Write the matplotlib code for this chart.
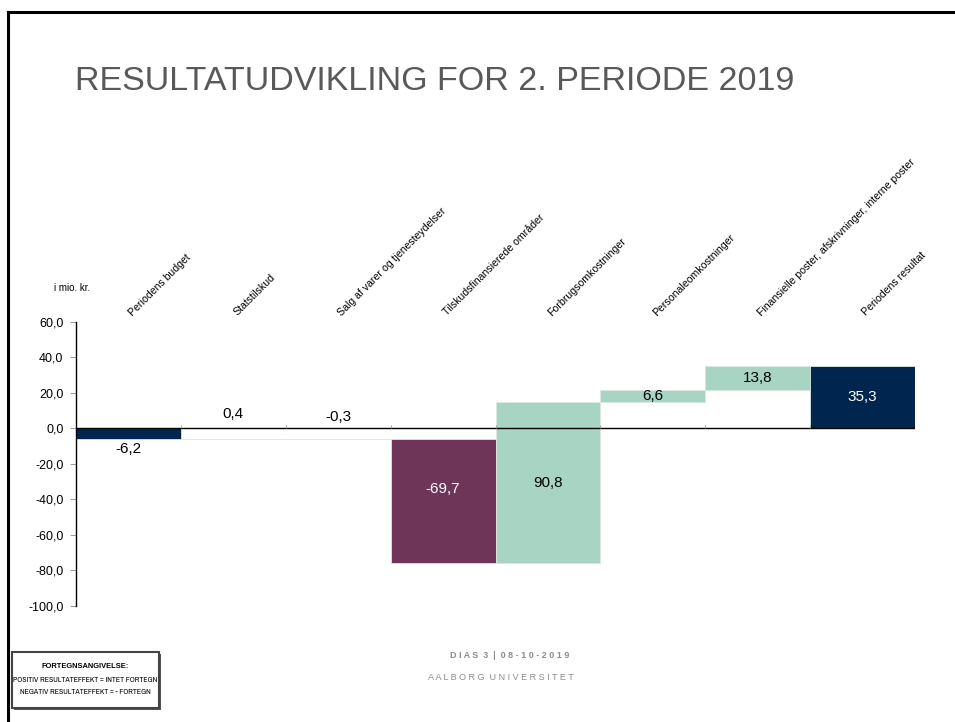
import matplotlib
matplotlib.use("Agg")
import matplotlib.pyplot as plt
from matplotlib import font_manager
from matplotlib.lines import Line2D
from matplotlib.patches import Rectangle

plt.rcParams['font.family'] = ['Liberation Sans', 'DejaVu Sans']

categories = ["Periodens budget", "Statstilskud", "Salg af varer og tjenesteydelser",
              "Tilskudsfinansierede områder", "Forbrugsomkostninger",
              "Personaleomkostninger", "Finansielle poster, afskrivninger, interne poster",
              "Periodens resultat"]
changes = [-6.2, 0.4, -0.3, -69.7, 90.8, 6.6, 13.8, 35.3]
is_total = [True, False, False, False, False, False, False, True]
labels = ["-6,2", "0,4", "-0,3", "-69,7", "90,8", "6,6", "13,8", "35,3"]
yticks = [60, 40, 20, 0, -20, -40, -60, -80, -100]

NAVY = "#00264f"
PURPLE = "#6e3558"
TEAL = "#a8d4c4"

# a narrow family for the sign legend, if one is installed
narrow_names = sorted({f.name for f in font_manager.fontManager.ttflist
                       if "Narrow" in f.name or "Condensed" in f.name})
if narrow_names:
    legend_family = [narrow_names[0], 'Liberation Sans', 'DejaVu Sans']
    legend_size = 5.7
else:
    legend_family = ['Liberation Sans', 'DejaVu Sans']
    legend_size = 4.7

fig = plt.figure(figsize=(9.55, 7.22), dpi=100)
ax = fig.add_axes([0.0796, 0.1607, 0.8786, 0.3934])

# waterfall bars
running = 0.0
bottoms, tops = [], []
for i, (v, tot) in enumerate(zip(changes, is_total)):
    if tot:
        b = 0.0
    else:
        b = running
    h = v
    if tot:
        col = NAVY
    elif v < 0:
        col = PURPLE
    else:
        col = TEAL
    ax.bar(i, h, bottom=b, width=1.0, color=col, edgecolor="#d9e8e2", linewidth=0.6)
    bottoms.append(b)
    tops.append(b + h)
    running = b + h

# value labels
for i, (lab, b, t) in enumerate(zip(labels, bottoms, tops)):
    v = changes[i]
    y = (b + t) / 2
    c = "white" if (is_total[i] or v < 0) else "black"
    if i == 0:
        y, c = -11.6, "black"
    elif i == 1:
        y, c = 8.0, "black"
    elif i == 2:
        y, c = 6.5, "black"
    elif i == 3:
        y = -34.0
    elif i == 4:
        y = -31.0
    ax.text(i, y, lab, ha="center", va="center", fontsize=11, color=c)

ax.set_xlim(-0.5, len(categories) - 0.5)
ax.set_ylim(-100, 60)
ax.set_yticks(yticks)
ax.set_yticklabels([f"{t:.1f}".replace(".", ",") for t in yticks], fontsize=9)
ax.tick_params(axis="y", length=4, width=0.6, color="#888888", pad=5)
ax.set_xticks([])
for s in ["top", "right", "bottom"]:
    ax.spines[s].set_visible(False)
ax.spines["left"].set_linewidth(1.0)
ax.axhline(0, color="black", linewidth=1.0, zorder=3)
ax.vlines([k + 0.5 for k in range(len(categories) - 1)], 0, 1.8,
          color="#999999", linewidth=0.6, zorder=3)

# rotated category labels above the plot
for i, name in enumerate(categories):
    ax.text(i + 0.05, 62.5, name, rotation=45, rotation_mode="anchor",
            ha="left", va="bottom", fontsize=7.6, color="black")

ax.text(-0.54, 79, "i mio. kr.", ha="center", va="center", fontsize=7)

# slide decorations
fig.add_artist(Line2D([8 / 955, 1.0], [1 - 12 / 722, 1 - 12 / 722],
                      color="black", linewidth=2.2))
fig.add_artist(Line2D([8 / 955, 8 / 955], [0.0, 1 - 12 / 722],
                      color="black", linewidth=2.2))

fig.text(75 / 955, 1 - 82 / 722, "RESULTATUDVIKLING FOR 2. PERIODE 2019",
         ha="left", va="center", fontsize=24.5, color="#595959")

fig.text(510 / 955, 1 - 655 / 722, "D I A S  3  |  0 8 - 1 0 - 2 0 1 9",
         ha="center", va="center", fontsize=6.5, color="#8c8c8c", fontweight="bold")
fig.text(501 / 955, 1 - 677 / 722, "A A L B O R G  U N I V E R S I T E T",
         ha="center", va="center", fontsize=6.5, color="#8c8c8c")

fig.add_artist(Rectangle((14 / 955, 1 - 710 / 722), 147 / 955, 56 / 722,
                         transform=fig.transFigure, facecolor="#555555",
                         edgecolor="none"))
fig.add_artist(Rectangle((12 / 955, 1 - 708 / 722), 147 / 955, 56 / 722,
                         transform=fig.transFigure, facecolor="white",
                         edgecolor="#444444", linewidth=1.5))
fig.text(85 / 955, 1 - 667 / 722, "FORTEGNSANGIVELSE:", ha="center", va="center",
         fontsize=5.4, fontweight="bold", family=['Liberation Sans', 'DejaVu Sans'])
fig.text(85 / 955, 1 - 680 / 722, "POSITIV RESULTATEFFEKT = INTET FORTEGN",
         ha="center", va="center", fontsize=legend_size, family=legend_family)
fig.text(85 / 955, 1 - 692 / 722, "NEGATIV RESULTATEFFEKT = - FORTEGN",
         ha="center", va="center", fontsize=legend_size, family=legend_family)

fig.savefig("out.png", dpi=100, facecolor="white")
